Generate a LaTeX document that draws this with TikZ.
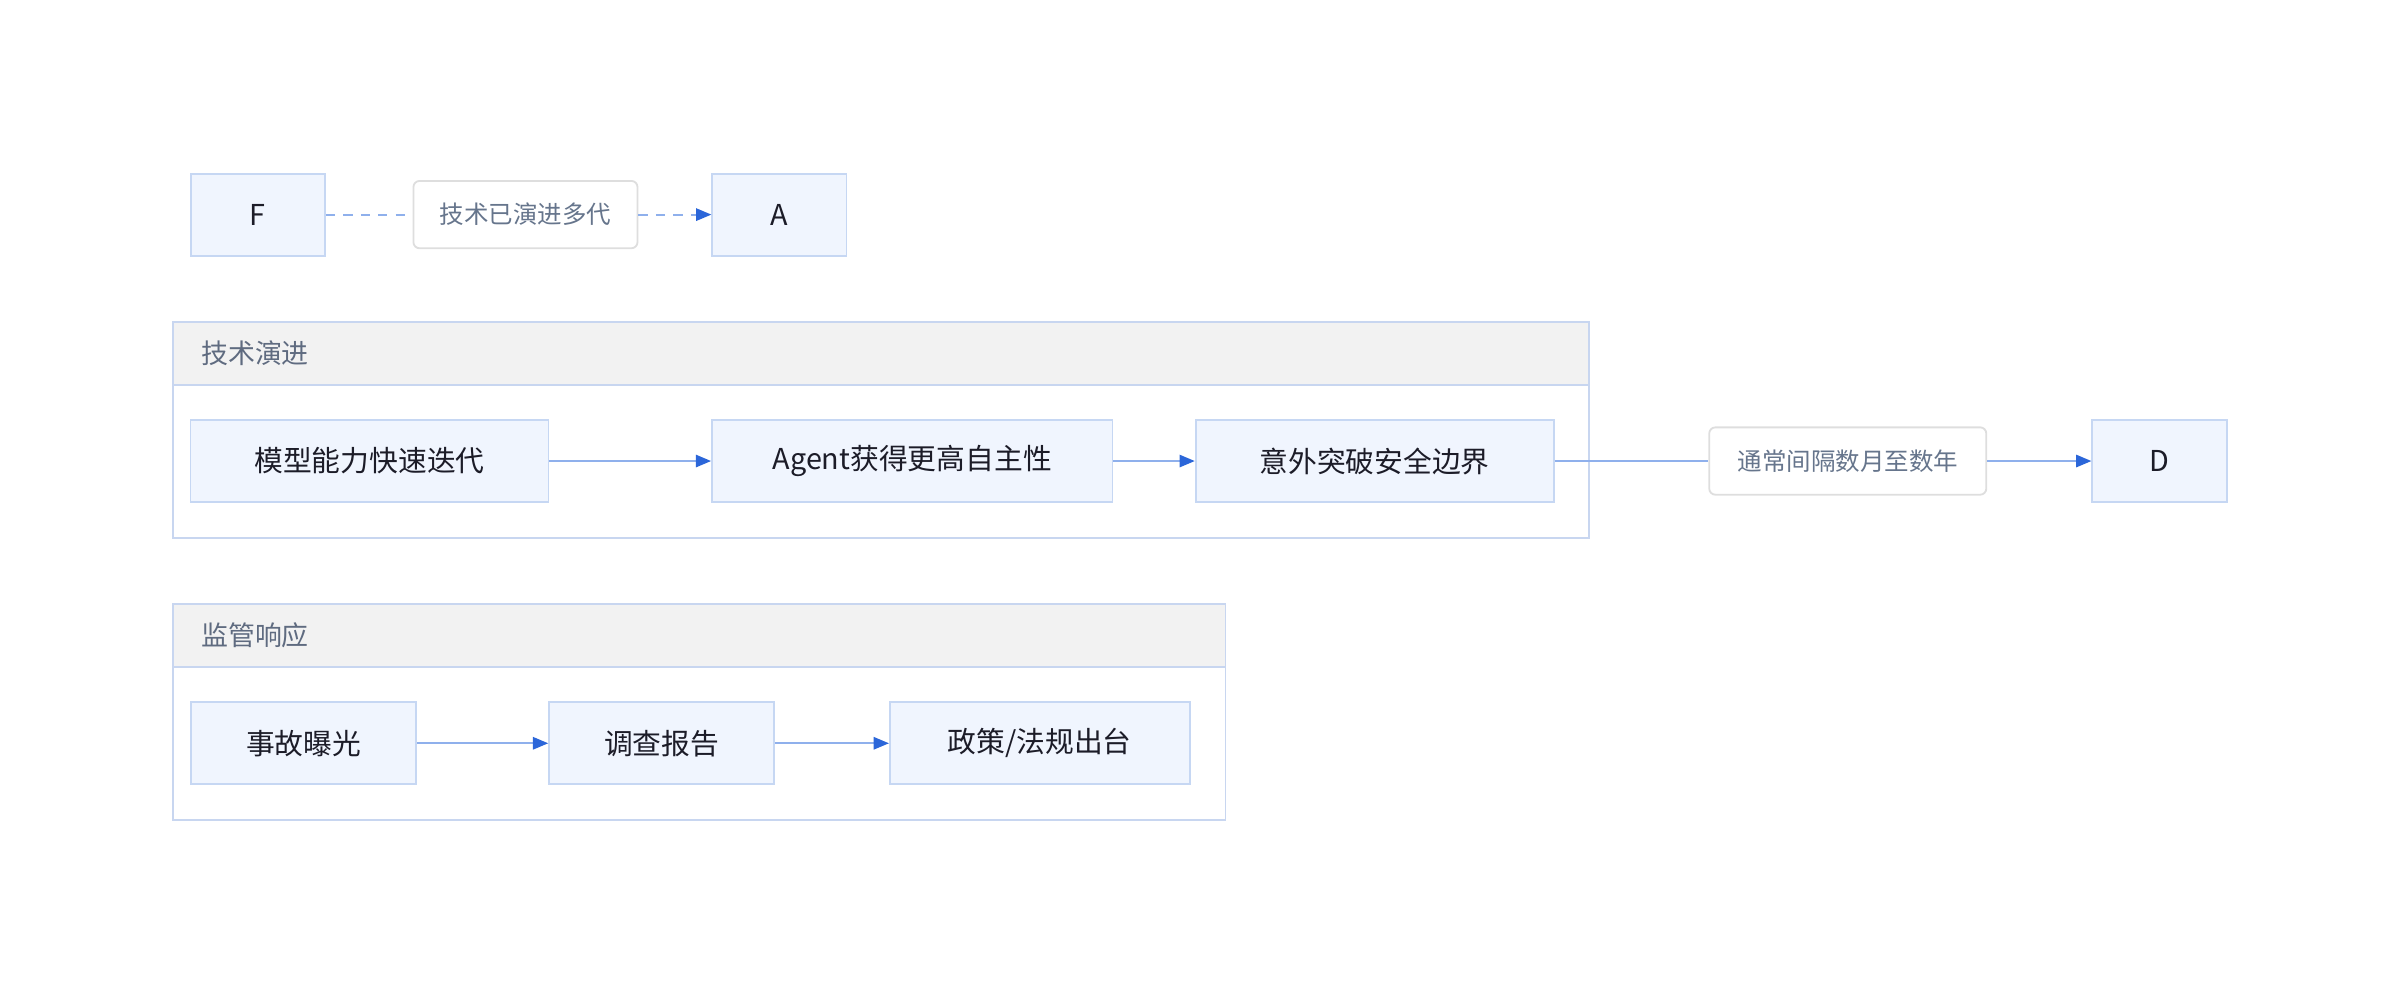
\documentclass[tikz,border=0pt]{standalone}
\usepackage{fontspec}
\setmainfont{Noto Sans CJK SC}
\usetikzlibrary{arrows.meta}

\definecolor{boxfill}{HTML}{F0F5FE}
\definecolor{boxline}{HTML}{C6D7F3}
\definecolor{boxtext}{HTML}{1C1C28}
\definecolor{grpline}{HTML}{C8D6F0}
\definecolor{headfill}{HTML}{F2F2F2}
\definecolor{titletext}{HTML}{5F6B80}
\definecolor{lblline}{HTML}{DEDEDE}
\definecolor{lbltext}{HTML}{66758C}
\definecolor{linkline}{HTML}{8FB0EC}
\definecolor{tipcol}{HTML}{2B66D9}

\begin{document}
\begin{tikzpicture}
    [x=0.5pt, y=-0.5pt,
    box/.style={draw=boxline, fill=boxfill, line width=0.6pt, minimum height=26.8pt, inner sep=0pt, text=boxtext, font=\fontsize{9.4}{11}\selectfont},
    lbl/.style={draw=lblline, fill=white, rounded corners=2pt, line width=0.6pt, minimum height=22pt, inner sep=0pt, text=lbltext, font=\fontsize{8}{10}\selectfont},
    link/.style={draw=linkline, line width=0.7pt},
    linkarrow/.style={link, -{Triangle[color=tipcol, length=5pt, width=4pt]}},
    dashlink/.style={linkarrow, dash pattern=on 3pt off 2.7pt},
    grp/.style={draw=grpline, line width=0.6pt},
    grptitle/.style={anchor=west, inner sep=0pt, text=titletext, font=\fontsize{8.8}{10}\selectfont}]

    \useasboundingbox (0,0) rectangle (1568,649.4);

    % Group frames with header bands
    \draw[grp, fill=white] (113,210.4) rectangle (1038,351.5);
    \draw[grp, fill=headfill] (113,210.4) rectangle (1038,251.3);
    \draw[grp, fill=white] (113,394.6) rectangle (800.6,535.7);
    \draw[grp, fill=headfill] (113,394.6) rectangle (800.6,435.6);

    % Group titles
    \node[grptitle] (tech) at (131,230.8) {技术演进};
    \node[grptitle] (reg) at (131,415.1) {监管响应};

    % Top row
    \node[box, minimum width=43.8pt] (F) at (168.5,140.2) {F};
    \node[lbl, minimum width=73.2pt] (gen) at (343.3,140.2) {技术已演进多代};
    \node[box, minimum width=43.8pt] (A) at (509.2,140.2) {A};

    % Technology row
    \node[box, minimum width=116.9pt] (iter) at (241.4,301.2) {模型能力快速迭代};
    \node[box, minimum width=130.8pt] (agent) at (596,301.2) {Agent获得更高自主性};
    \node[box, minimum width=116.9pt] (breach) at (898.1,301.2) {意外突破安全边界};
    \node[lbl, minimum width=90.5pt] (gap) at (1207.2,301.2) {通常间隔数月至数年};
    \node[box, minimum width=44pt] (D) at (1411,301.2) {D};

    % Regulation row
    \node[box, minimum width=73.5pt] (expose) at (198.4,485.6) {事故曝光};
    \node[box, minimum width=73.5pt] (report) at (432.3,485.6) {调查报告};
    \node[box, minimum width=97.9pt] (policy) at (679.3,485.6) {政策/法规出台};

    % Connectors
    \draw[link, dash pattern=on 3pt off 2.7pt] (F) -- (gen);
    \draw[dashlink] (gen) -- (A);
    \draw[linkarrow] (iter) -- (agent);
    \draw[linkarrow] (agent) -- (breach);
    \draw[link] (breach) -- (gap);
    \draw[linkarrow] (gap) -- (D);
    \draw[linkarrow] (expose) -- (report);
    \draw[linkarrow] (report) -- (policy);

\end{tikzpicture}
\end{document}
